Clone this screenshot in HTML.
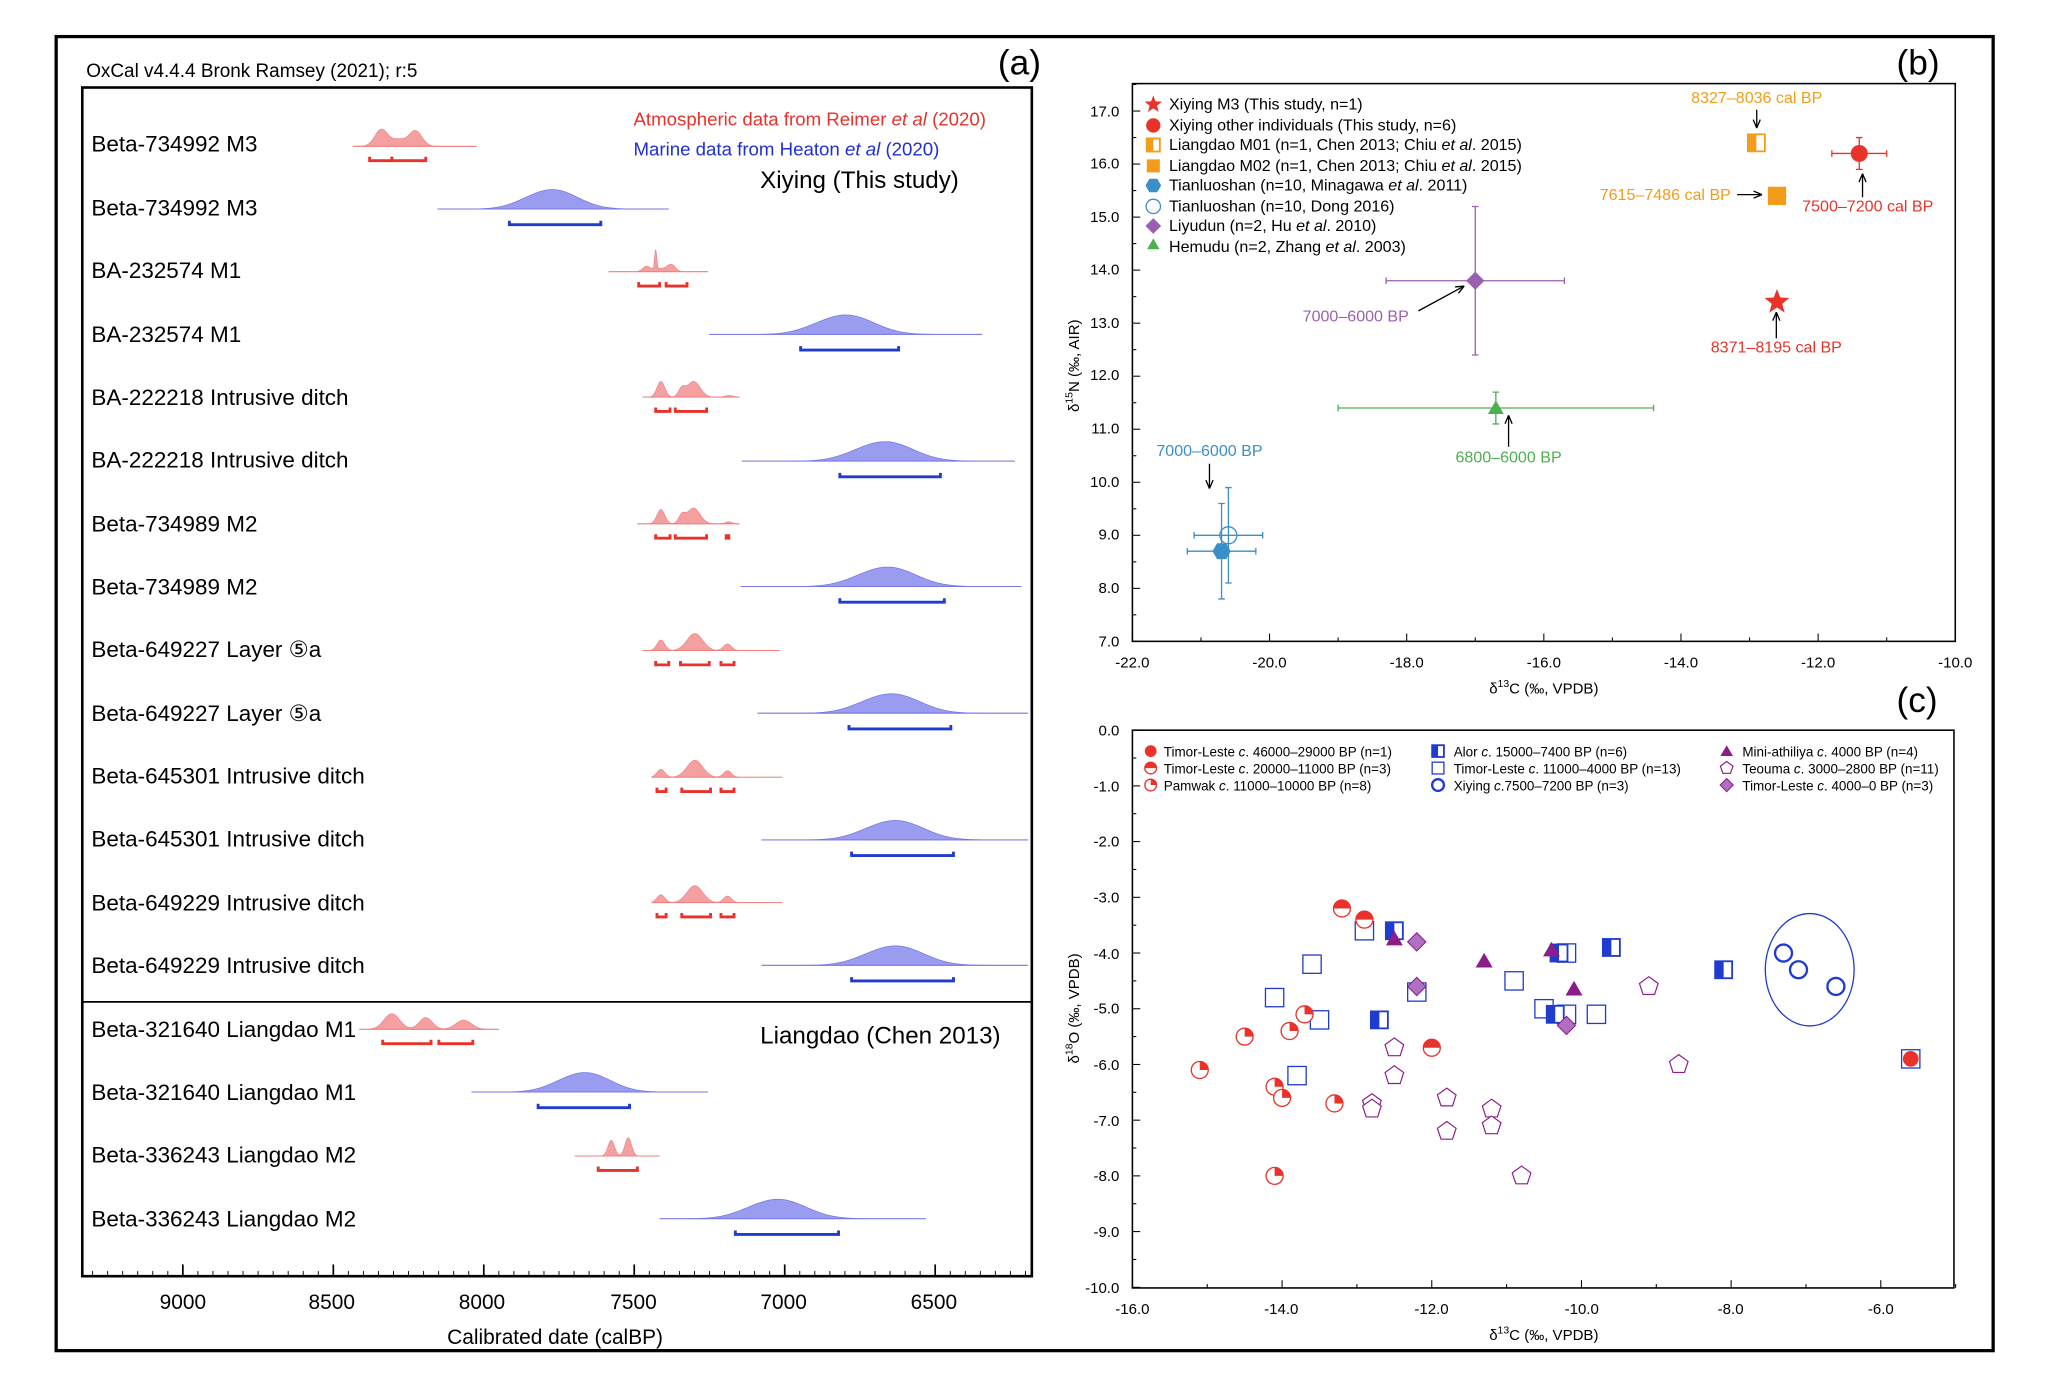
<!DOCTYPE html>
<html><head><meta charset="utf-8"><style>
html,body{margin:0;padding:0;background:#fff}
svg{display:block;font-family:"Liberation Sans",sans-serif}
</style></head><body>
<svg id="s" width="2048" height="1382" viewBox="0 0 1568 1058" preserveAspectRatio="none" xmlns="http://www.w3.org/2000/svg">
<rect x="0" y="0" width="1568" height="1058" fill="#fff"/>
<rect x="43" y="28" width="1483" height="1006" fill="none" stroke="#000" stroke-width="2.5"/>
<g id="A"></g>
<rect x="63" y="67" width="727" height="910" fill="none" stroke="#000" stroke-width="2"/>
<line x1="63" y1="767" x2="790" y2="767" stroke="#000" stroke-width="1.3"/>
<text x="66" y="59" font-size="14.5">OxCal v4.4.4 Bronk Ramsey (2021); r:5</text>
<text x="764" y="57" font-size="27">(a)</text>
<text x="485" y="96" font-size="14.3" fill="#e8322a">Atmospheric data from Reimer <tspan font-style="italic">et al</tspan> (2020)</text>
<text x="485" y="119" font-size="14.3" fill="#1f2fd6">Marine data from Heaton <tspan font-style="italic">et al</tspan> (2020)</text>
<text x="582" y="144" font-size="18.5">Xiying (This study)</text>
<text x="582" y="799" font-size="18.5">Liangdao (Chen 2013)</text>
<g font-size="17.2">
<text x="70" y="116">Beta-734992 M3</text>
<text x="70" y="165">Beta-734992 M3</text>
<text x="70" y="213">BA-232574 M1</text>
<text x="70" y="262">BA-232574 M1</text>
<text x="70" y="310">BA-222218 Intrusive ditch</text>
<text x="70" y="358">BA-222218 Intrusive ditch</text>
<text x="70" y="407">Beta-734989 M2</text>
<text x="70" y="455">Beta-734989 M2</text>
<text x="70" y="503">Beta-649227 Layer ⑤a</text>
<text x="70" y="552">Beta-649227 Layer ⑤a</text>
<text x="70" y="600">Beta-645301 Intrusive ditch</text>
<text x="70" y="648">Beta-645301 Intrusive ditch</text>
<text x="70" y="697">Beta-649229 Intrusive ditch</text>
<text x="70" y="745">Beta-649229 Intrusive ditch</text>
<text x="70" y="794">Beta-321640 Liangdao M1</text>
<text x="70" y="842">Beta-321640 Liangdao M1</text>
<text x="70" y="890">Beta-336243 Liangdao M2</text>
<text x="70" y="939">Beta-336243 Liangdao M2</text>
</g>
<g font-size="16" text-anchor="middle">
<text x="140" y="1002">9000</text><text x="254" y="1002">8500</text><text x="369" y="1002">8000</text>
<text x="485" y="1002">7500</text><text x="600" y="1002">7000</text><text x="715" y="1002">6500</text>
<text x="425" y="1029">Calibrated date (calBP)</text>
</g>

<!-- panel b -->
<text x="1452" y="57" font-size="27">(b)</text>
<rect x="867" y="64" width="630" height="427" fill="none" stroke="#000" stroke-width="1.2"/>
<g id="B"></g>
<g font-size="11.5" text-anchor="end">
<text x="857" y="89">17.0</text><text x="857" y="129">16.0</text><text x="857" y="170">15.0</text>
<text x="857" y="210">14.0</text><text x="857" y="251">13.0</text><text x="857" y="291">12.0</text>
<text x="857" y="332">11.0</text><text x="857" y="373">10.0</text><text x="857" y="413">9.0</text>
<text x="857" y="454">8.0</text><text x="857" y="495">7.0</text>
</g>
<g font-size="11.5" text-anchor="middle">
<text x="867" y="511">-22.0</text><text x="972" y="511">-20.0</text><text x="1077" y="511">-18.0</text>
<text x="1182" y="511">-16.0</text><text x="1287" y="511">-14.0</text><text x="1392" y="511">-12.0</text>
<text x="1497" y="511">-10.0</text>
<text x="1182" y="531">δ<tspan font-size="8" dy="-5">13</tspan><tspan dy="5">C (‰, VPDB)</tspan></text>
</g>
<text transform="translate(826,280) rotate(-90)" font-size="11.5" text-anchor="middle">δ<tspan font-size="8" dy="-5">15</tspan><tspan dy="5">N (‰, AIR)</tspan></text>
<g font-size="12.3">
<text x="895" y="84">Xiying M3 (This study, n=1)</text>
<text x="895" y="100">Xiying other individuals (This study, n=6)</text>
<text x="895" y="115">Liangdao M01 (n=1, Chen 2013; Chiu <tspan font-style="italic">et al</tspan>. 2015)</text>
<text x="895" y="131">Liangdao M02 (n=1, Chen 2013; Chiu <tspan font-style="italic">et al</tspan>. 2015)</text>
<text x="895" y="146">Tianluoshan  (n=10, Minagawa <tspan font-style="italic">et al</tspan>. 2011)</text>
<text x="895" y="162">Tianluoshan (n=10, Dong 2016)</text>
<text x="895" y="177">Liyudun (n=2, Hu <tspan font-style="italic">et al</tspan>. 2010)</text>
<text x="895" y="193">Hemudu (n=2, Zhang <tspan font-style="italic">et al</tspan>. 2003)</text>
</g>
<g font-size="12.3" text-anchor="middle">
<text x="1345" y="79" fill="#f39c1a">8327–8036 cal BP</text>
<text x="1275" y="153" fill="#f39c1a">7615–7486 cal BP</text>
<text x="1430" y="162" fill="#e8322a">7500–7200 cal BP</text>
<text x="1360" y="270" fill="#e8322a">8371–8195 cal BP</text>
<text x="1038" y="246" fill="#9b5fb0">7000–6000 BP</text>
<text x="1155" y="354" fill="#4caf50">6800–6000 BP</text>
<text x="926" y="349" fill="#3a8fc8">7000–6000 BP</text>
</g>

<!-- panel c -->
<text x="1452" y="545" font-size="27">(c)</text>
<rect x="867" y="559" width="629" height="427" fill="none" stroke="#000" stroke-width="1.2"/>
<g id="C"></g>
<g font-size="11.5" text-anchor="end">
<text x="857" y="563">0.0</text><text x="857" y="606">-1.0</text><text x="857" y="648">-2.0</text>
<text x="857" y="691">-3.0</text><text x="857" y="734">-4.0</text><text x="857" y="776">-5.0</text>
<text x="857" y="819">-6.0</text><text x="857" y="862">-7.0</text><text x="857" y="904">-8.0</text>
<text x="857" y="947">-9.0</text><text x="857" y="990">-10.0</text>
</g>
<g font-size="11.5" text-anchor="middle">
<text x="867" y="1006">-16.0</text><text x="981" y="1006">-14.0</text><text x="1096" y="1006">-12.0</text>
<text x="1211" y="1006">-10.0</text><text x="1325" y="1006">-8.0</text><text x="1440" y="1006">-6.0</text>
<text x="1182" y="1026">δ<tspan font-size="8" dy="-5">13</tspan><tspan dy="5">C (‰, VPDB)</tspan></text>
</g>
<text transform="translate(826,772) rotate(-90)" font-size="11.5" text-anchor="middle">δ<tspan font-size="8" dy="-5">18</tspan><tspan dy="5">O (‰, VPDB)</tspan></text>
<g font-size="10.3">
<text x="891" y="579">Timor-Leste <tspan font-style="italic">c</tspan>. 46000–29000 BP (n=1)</text>
<text x="891" y="592">Timor-Leste <tspan font-style="italic">c</tspan>. 20000–11000 BP (n=3)</text>
<text x="891" y="605">Pamwak <tspan font-style="italic">c</tspan>. 11000–10000 BP (n=8)</text>
<text x="1113" y="579">Alor <tspan font-style="italic">c</tspan>. 15000–7400 BP (n=6)</text>
<text x="1113" y="592">Timor-Leste <tspan font-style="italic">c</tspan>. 11000–4000 BP (n=13)</text>
<text x="1113" y="605">Xiying <tspan font-style="italic">c</tspan>.7500–7200 BP (n=3)</text>
<text x="1334" y="579">Mini-athiliya <tspan font-style="italic">c</tspan>. 4000 BP (n=4)</text>
<text x="1334" y="592">Teouma <tspan font-style="italic">c</tspan>. 3000–2800 BP (n=11)</text>
<text x="1334" y="605">Timor-Leste <tspan font-style="italic">c</tspan>. 4000–0 BP (n=3)</text>
</g>
</svg>
<script>
var NS="http://www.w3.org/2000/svg";
function el(g,t,a){var e=document.createElementNS(NS,t);for(var k in a)e.setAttribute(k,a[k]);document.getElementById(g).appendChild(e);return e;}
var RED="#e8322a",BLUE="#1f3ccf",OR="#f39c1a",LB="#3a8fc8",PU="#9b5fb0",GR="#4caf50",DP="#8b1d8b";
for(var yr=6200;yr<=9300;yr+=50){var x=140+(9000-yr)*0.2304;if(x<64||x>789)continue;var maj=yr%500==0;
el("A","line",{x1:x,y1:977,x2:x,y2:977-(maj?9:4),stroke:"#000","stroke-width":maj?1.3:0.7});}
function dist(x0,x1,y,peaks,red){var pts=[];for(var x=x0;x<=x1;x+=0.5){var h=0;peaks.forEach(function(p){var d=(x-p[0])/p[1];h+=p[2]*Math.exp(-0.5*d*d);});pts.push([x,y-h]);}
var d="M"+x0+","+y;pts.forEach(function(p){d+="L"+p[0].toFixed(1)+","+p[1].toFixed(2);});d+="L"+x1+","+y+"Z";
el("A","path",{d:d,fill:red?"#f4a0a0":"#9a9cf0",stroke:red?"#f08080":"#7070e0","stroke-width":0.5});
el("A","line",{x1:x0,y1:y,x2:x1,y2:y,stroke:red?"#f08080":"#7777e6","stroke-width":0.8});}
function bars(y,segs,red){var c=red?RED:BLUE;segs.forEach(function(s){el("A","path",{d:"M"+s[0]+","+(y-3)+"V"+y+"H"+s[1]+"V"+(y-3),fill:"none",stroke:c,"stroke-width":2.2});});}
var R=[
[112,270,365,[[292,5,13],[318,5,12],[305,5,5]],[[283,300],[300,326]]],
[208,466,542,[[502,0.8,15],[495,3,4],[514,3,5],[506,5,2.5]],[[489,505],[510,526]]],
[304,492,566,[[506,3,12],[531,5,12],[522,2.5,6],[558,3,1.2]],[[502,513],[517,541]]],
[401,488,566,[[506,3,11],[531,5,12],[522,2.5,6],[558,2.5,1.5]],[[502,513],[517,541],[556,558]]],
[498,492,597,[[506,3,8],[532,6,13],[557,3,5]],[[502,512],[521,543],[552,562]]],
[595,499,599,[[506,3,6],[532,6,13],[557,3,5]],[[503,510],[522,544],[552,562]]],
[691,499,599,[[506,3,6],[532,6,13],[557,3,5]],[[503,510],[522,544],[552,562]]],
[788,275,382,[[300,6,12],[326,5,9],[355,6,7]],[[293,330],[336,362]]],
[885,440,505,[[468,2.5,12],[481,2.5,14]],[[458,488]]]];
R.forEach(function(r){dist(r[1],r[2],r[0],r[3],1);bars(r[0]+11,r[4],1);});
var B=[[160,335,512,425,18,[[390,460]]],[256,543,752,650,20,[[613,688]]],[353,568,777,680,20,[[643,720]]],[449,567,782,682,20,[[643,723]]],
[546,580,787,685,20,[[650,728]]],[643,583,787,688,20,[[652,730]]],[739,583,787,688,20,[[652,730]]],[836,361,542,450,18,[[412,482]]],[933,505,709,598,20,[[563,642]]]];
B.forEach(function(b){dist(b[1],b[2],b[0],[[b[3],b[4],14],[b[3]-b[4]*1.2,b[4]*0.8,2.5]],0);bars(b[0]+12,b[5],0);});
function bx(v){return 867+(v+22)*52.5;} function by(v){return 491-(v-7)*40.6;}
for(var v=-22;v<=-10;v+=1){var x=bx(v);el("B","line",{x1:x,y1:491,x2:x,y2:491-(v%2==0?6:3),stroke:"#000","stroke-width":0.8});}
for(var v=7;v<=17.5;v+=0.5){var y=by(v);el("B","line",{x1:867,y1:y,x2:867+(v%1==0?6:3),y2:y,stroke:"#000","stroke-width":0.8});}
function star(g,cx,cy,r,c){var d="";for(var i=0;i<10;i++){var a=-Math.PI/2+i*Math.PI/5,rr=i%2?r*0.42:r;d+=(i?"L":"M")+(cx+rr*Math.cos(a)).toFixed(1)+","+(cy+rr*Math.sin(a)).toFixed(1);}el(g,"path",{d:d+"Z",fill:c});}
function poly(g,cx,cy,r,n,rot,a){var d="";for(var i=0;i<n;i++){var t=rot+i*2*Math.PI/n;d+=(i?"L":"M")+(cx+r*Math.cos(t)).toFixed(1)+","+(cy+r*Math.sin(t)).toFixed(1);}a.d=d+"Z";el(g,"path",a);}
function err(g,x,y,x0,x1,y0,y1,c){el(g,"path",{d:"M"+x0+","+y+"H"+x1+"M"+x0+","+(y-2.5)+"v5M"+x1+","+(y-2.5)+"v5M"+x+","+y0+"V"+y1+"M"+(x-2.5)+","+y0+"h5M"+(x-2.5)+","+y1+"h5",stroke:c,"stroke-width":1,fill:"none"});}
function halfsq(g,x,y,s,c,fillLeft,bg){el(g,"rect",{x:x-s/2,y:y-s/2,width:s,height:s,fill:bg||"#fff",stroke:c,"stroke-width":1.4});el(g,"rect",{x:x-s/2,y:y-s/2,width:s/2,height:s,fill:c});}
function arrow(g,x1,y1,x2,y2){el(g,"line",{x1:x1,y1:y1,x2:x2,y2:y2,stroke:"#000","stroke-width":1});var a=Math.atan2(y2-y1,x2-x1),L=7;
el(g,"path",{d:"M"+x2+","+y2+"L"+(x2-L*Math.cos(a-0.4))+","+(y2-L*Math.sin(a-0.4))+"M"+x2+","+y2+"L"+(x2-L*Math.cos(a+0.4))+","+(y2-L*Math.sin(a+0.4)),stroke:"#000","stroke-width":1,fill:"none"});}
star("B",883,80,7,RED);el("B","circle",{cx:883,cy:96,r:5.5,fill:RED});halfsq("B",883,111,10,OR);
el("B","rect",{x:878,y:122,width:10,height:10,fill:OR});poly("B",883,142,6,6,0,{fill:LB});
el("B","circle",{cx:883,cy:158,r:5.5,fill:"none",stroke:LB,"stroke-width":1});poly("B",883,173,6,4,0,{fill:PU});poly("B",883,188,5.5,3,-Math.PI/2,{fill:GR});
err("B",bx(-17),by(13.8),bx(-18.3),bx(-15.7),by(15.2),by(12.4),PU);poly("B",bx(-17),by(13.8),7,4,0,{fill:PU});
err("B",bx(-16.7),by(11.4),bx(-19),bx(-14.4),by(11.7),by(11.1),GR);poly("B",bx(-16.7),by(11.4)+1,7,3,-Math.PI/2,{fill:GR});
err("B",bx(-20.6),by(9.0),bx(-21.1),bx(-20.1),by(9.9),by(8.1),LB);el("B","circle",{cx:bx(-20.6),cy:by(9.0),r:6.5,fill:"none",stroke:LB,"stroke-width":1});
err("B",bx(-20.7),by(8.7),bx(-21.2),bx(-20.2),by(9.6),by(7.8),LB);poly("B",bx(-20.7),by(8.7),7,6,0,{fill:LB});
err("B",bx(-11.4),by(16.2),bx(-11.8),bx(-11.0),by(16.5),by(15.9),RED);el("B","circle",{cx:bx(-11.4),cy:by(16.2),r:6.5,fill:RED});
halfsq("B",bx(-12.9),by(16.4),13,OR);el("B","rect",{x:bx(-12.6)-7,y:by(15.4)-7,width:14,height:14,fill:OR});
star("B",bx(-12.6),by(13.4),10,RED);
arrow("B",1345,84,1345,98);arrow("B",1330,149,1349,149);arrow("B",1426,151,1426,133);arrow("B",1360,259,1360,239);
arrow("B",1086,238,1121,219);arrow("B",1155,342,1155,318);arrow("B",926,355,926,374);
function cx_(v){return 867+(v+16)*57.3;} function cy_(v){return 559-v*42.65;}
for(var v=-16;v<=-4.7;v+=1){var x=cx_(v);el("C","line",{x1:x,y1:986,x2:x,y2:986-(v%2==0?6:3),stroke:"#000","stroke-width":0.8});}
for(var v=0;v>=-10;v-=0.5){var y=cy_(v);el("C","line",{x1:867,y1:y,x2:867+(v%1==0?6:3),y2:y,stroke:"#000","stroke-width":0.8});}
function halfc(x,y,r,top){el("C","circle",{cx:x,cy:y,r:r,fill:"#fff",stroke:RED,"stroke-width":1});el("C","path",{d:"M"+(x-r)+","+y+"A"+r+","+r+" 0 0 1 "+(x+r)+","+y+"Z",fill:RED});}
function quarc(x,y,r){el("C","circle",{cx:x,cy:y,r:r,fill:"#fff",stroke:RED,"stroke-width":1});el("C","path",{d:"M"+x+","+y+"V"+(y-r)+"A"+r+","+r+" 0 0 1 "+(x+r)+","+y+"Z",fill:RED});}
function osq(x,y,s){el("C","rect",{x:x-s/2,y:y-s/2,width:s,height:s,fill:"#fff",stroke:BLUE,"stroke-width":1});}
function pent(x,y,r){poly("C",x,y,r,5,-Math.PI/2,{fill:"#fff",stroke:DP,"stroke-width":0.9});}
function tri(x,y,r){poly("C",x,y+1,r,3,-Math.PI/2,{fill:DP});}
function dia(x,y,r){poly("C",x,y,r,4,0,{fill:"#b070c0",stroke:DP,"stroke-width":0.8});}
el("C","circle",{cx:881,cy:575,r:4.5,fill:RED});halfc(881,588,4.5);quarc(881,601,4.5);
halfsq("C",1101,575,9,BLUE);osq(1101,588,9);el("C","circle",{cx:1101,cy:601,r:4.5,fill:"none",stroke:BLUE,"stroke-width":1.8});
tri(1322,575,5.5);pent(1322,588,5);dia(1322,601,5);
[[-12.9,-3.6],[-13.6,-4.2],[-14.1,-4.8],[-13.5,-5.2],[-13.8,-6.2],[-12.2,-4.7],[-10.9,-4.5],[-10.5,-5.0],[-10.2,-5.1],[-9.8,-5.1],[-10.2,-4.0],[-5.6,-5.9]].forEach(function(p){osq(cx_(p[0]),cy_(p[1]),14);});
[[-12.5,-3.6],[-12.7,-5.2],[-10.3,-4.0],[-9.6,-3.9],[-8.1,-4.3],[-10.35,-5.1]].forEach(function(p){halfsq("C",cx_(p[0]),cy_(p[1]),13,BLUE);});
[[-15.1,-6.1],[-14.5,-5.5],[-14.1,-6.4],[-14.0,-6.6],[-13.9,-5.4],[-13.7,-5.1],[-13.3,-6.7],[-14.1,-8.0]].forEach(function(p){quarc(cx_(p[0]),cy_(p[1]),6.5);});
[[-13.2,-3.2],[-12.9,-3.4],[-12.0,-5.7]].forEach(function(p){halfc(cx_(p[0]),cy_(p[1]),6.5);});
el("C","circle",{cx:cx_(-5.6),cy:cy_(-5.9),r:6,fill:RED});
[[-9.1,-4.6],[-8.7,-6.0],[-12.5,-5.7],[-12.5,-6.2],[-11.8,-6.6],[-11.8,-7.2],[-11.2,-6.8],[-11.2,-7.1],[-12.8,-6.7],[-12.8,-6.8],[-10.8,-8.0]].forEach(function(p){pent(cx_(p[0]),cy_(p[1]),7.5);});
[[-12.5,-3.75],[-11.3,-4.15],[-10.4,-3.95],[-10.1,-4.65]].forEach(function(p){tri(cx_(p[0]),cy_(p[1]),7.5);});
[[-12.2,-3.8],[-12.2,-4.6],[-10.2,-5.3]].forEach(function(p){dia(cx_(p[0]),cy_(p[1]),7);});
[[-7.3,-4.0],[-7.1,-4.3],[-6.6,-4.6]].forEach(function(p){el("C","circle",{cx:cx_(p[0]),cy:cy_(p[1]),r:6.5,fill:"none",stroke:BLUE,"stroke-width":1.8});});
el("C","ellipse",{cx:cx_(-6.95),cy:cy_(-4.3),rx:34,ry:43,fill:"none",stroke:BLUE,"stroke-width":1});
</script>
</body></html>
